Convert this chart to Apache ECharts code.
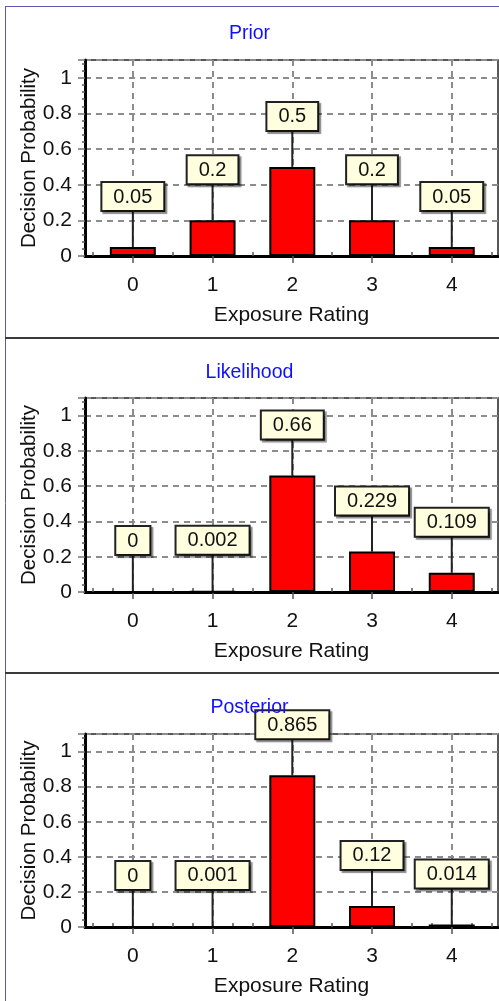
<!DOCTYPE html>
<html>
<head>
<meta charset="utf-8">
<script src="https://cdn.jsdelivr.net/npm/echarts@6/dist/echarts.min.js"></script>
<style>
html,body{margin:0;padding:0;background:#fff;}
#c{width:499px;height:1001px;}
</style>
</head>
<body>
<div id="c"></div>
<script>
// ---- data ----
const panelTitles = ['Prior', 'Likelihood', 'Posterior'];
const categories = [0, 1, 2, 3, 4];
const priorValues = [0.05, 0.2, 0.5, 0.2, 0.05];
const likelihoodValues = [0, 0.002, 0.66, 0.229, 0.109];
const posteriorValues = [0, 0.001, 0.865, 0.12, 0.014];
const xMinorTicks = [-0.5, -0.25, 0.25, 0.5, 0.75, 1.25, 1.5, 1.75, 2.25, 2.5, 2.75, 3.25, 3.5, 3.75, 4.25, 4.5];
const xAxisName = 'Exposure Rating';
const yAxisName = 'Decision Probability';

const panelValues = [priorValues, likelihoodValues, posteriorValues];

// ---- layout ----
const gridTops = [60, 398, 734];
const gridHeights = [196, 194, 193];
const titleTops = [24, 363, 698];
const FONT = 'Liberation Sans, Arial, sans-serif';

const chart = echarts.init(document.getElementById('c'), null, {renderer: 'canvas'});

const grids = [], xAxes = [], yAxes = [], series = [], titles = [];
const dashed = {show: true, lineStyle: {color: '#8c8c8c', width: 2, type: [6, 5]}};

panelValues.forEach((vals, i) => {
  grids.push({left: 85, width: 413, top: gridTops[i], height: gridHeights[i],
    show: true, borderColor: '#222', borderWidth: 1.5, backgroundColor: '#fff', containLabel: false});
  titles.push({text: panelTitles[i], left: 'center', top: titleTops[i], padding: 0,
    textStyle: {color: '#1010ff', fontSize: 19.5, fontWeight: 'normal', fontFamily: FONT}});
  // main x axis
  xAxes.push({type: 'value', gridIndex: i, min: -0.6, max: 4.58,
    name: xAxisName, nameLocation: 'middle', nameGap: 49,
    nameTextStyle: {fontSize: 21, color: '#111', fontFamily: FONT},
    axisLine: {show: true, onZero: false, lineStyle: {color: '#000', width: 3}},
    axisTick: {show: true, customValues: categories, length: 7, lineStyle: {color: '#555', width: 1.5}},
    axisLabel: {show: true, customValues: categories, margin: 19, fontSize: 21, color: '#111', fontFamily: FONT},
    splitLine: dashed});
  // minor ticks x axis
  xAxes.push({type: 'value', gridIndex: i, min: -0.6, max: 4.58,
    axisLine: {show: false},
    axisTick: {show: true, customValues: xMinorTicks, length: 4, lineStyle: {color: '#555', width: 1.5}},
    axisLabel: {show: false},
    splitLine: {show: false}});
  yAxes.push({type: 'value', gridIndex: i, min: 0, max: 1.1, interval: 0.2,
    name: yAxisName, nameLocation: 'middle', nameGap: 45, nameMoveOverlap: false,
    nameTextStyle: {fontSize: 20.5, color: '#111', fontFamily: FONT},
    axisLine: {show: true, onZero: false, lineStyle: {color: '#000', width: 3}},
    axisTick: {show: true, length: 7, lineStyle: {color: '#777', width: 1.5}},
    minorTick: {show: true, splitNumber: 5, length: 3, lineStyle: {color: '#555', width: 1.5}},
    axisLabel: {margin: 13, fontSize: 21, color: '#111', fontFamily: FONT, showMaxLabel: false},
    splitLine: dashed});

  const pts = categories.map((c, k) => [c, vals[k]]);
  series.push({type: 'bar', xAxisIndex: 2 * i, yAxisIndex: i, data: pts, barWidth: 46,
    itemStyle: {color: '#ff0000', borderColor: '#000', borderWidth: 2},
    label: {show: true, position: 'top', distance: 37,
      formatter: p => String(p.value[1]),
      fontSize: 20, fontFamily: FONT, color: '#111', lineHeight: 20,
      backgroundColor: '#ffffe0', borderColor: '#222', borderWidth: 2,
      padding: [4, 11, 3, 11],
      shadowColor: 'rgba(0,0,0,0.45)', shadowOffsetX: 2, shadowOffsetY: 2, shadowBlur: 1},
    z: 3});
  series.push({type: 'custom', xAxisIndex: 2 * i, yAxisIndex: i, data: pts, z: 2,
    renderItem: (params, api) => {
      const p = api.coord([api.value(0), api.value(1)]);
      return {type: 'line', shape: {x1: p[0], y1: p[1], x2: p[0], y2: p[1] - 38},
        style: {stroke: '#222', lineWidth: 2}};
    }});
});

const graphic = [
  {type: 'line', shape: {x1: 5, y1: 6.5, x2: 499, y2: 6.5}, style: {stroke: '#5a5ab0', lineWidth: 1}},
  {type: 'line', shape: {x1: 5.5, y1: 6, x2: 5.5, y2: 1001}, style: {stroke: '#5a5ab0', lineWidth: 1}},
  {type: 'line', shape: {x1: 5, y1: 338, x2: 499, y2: 338}, style: {stroke: '#3a3a3a', lineWidth: 2}},
  {type: 'line', shape: {x1: 5, y1: 673, x2: 499, y2: 673}, style: {stroke: '#3a3a3a', lineWidth: 2}}
];

chart.setOption({
  animation: false,
  backgroundColor: '#fff',
  title: titles,
  grid: grids,
  xAxis: xAxes,
  yAxis: yAxes,
  series: series,
  graphic: graphic
});
</script>
</body>
</html>
